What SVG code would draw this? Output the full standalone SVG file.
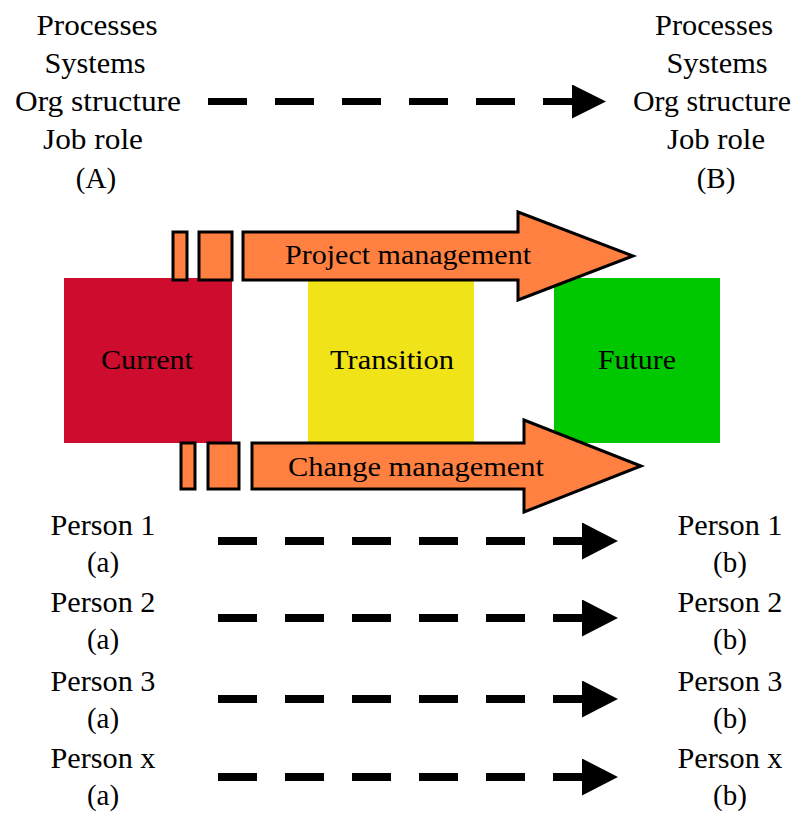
<svg xmlns="http://www.w3.org/2000/svg" width="803" height="814" viewBox="0 0 803 814">
<style>
.t{font-family:"Liberation Serif","Times New Roman",serif;font-size:29px;fill:#000;text-anchor:middle}
.b{font-family:"Liberation Serif","Times New Roman",serif;font-size:27px;fill:#000;text-anchor:middle}
.blk{fill:#FF8040;stroke:#000;stroke-width:3}
.dash{fill:none;stroke:#000}
</style>
<defs>
<marker id="headTop" markerUnits="userSpaceOnUse" markerWidth="34" markerHeight="34" viewBox="0 0 33 33" refX="0" refY="16.5" orient="auto">
<path d="M0,0 L33,16.5 L0,33 Z" fill="#000"/>
</marker>
<marker id="headP" markerUnits="userSpaceOnUse" markerWidth="36" markerHeight="37" viewBox="0 0 35 36" refX="0" refY="18" orient="auto">
<path d="M0,0 L35,18 L0,36 Z" fill="#000"/>
</marker>
</defs>
<rect width="803" height="814" fill="#fff"/>

<g id="stateA">
<text class="t" x="97" y="35" textLength="121" lengthAdjust="spacingAndGlyphs">Processes</text>
<text class="t" x="95" y="73" textLength="101" lengthAdjust="spacingAndGlyphs">Systems</text>
<text class="t" x="98" y="111" textLength="166" lengthAdjust="spacingAndGlyphs">Org structure</text>
<text class="t" x="93" y="149" textLength="100" lengthAdjust="spacingAndGlyphs">Job role</text>
<text class="t" x="96" y="188">(A)</text>
</g>
<g id="stateB">
<text class="t" x="714" y="35" textLength="118" lengthAdjust="spacingAndGlyphs">Processes</text>
<text class="t" x="717" y="73" textLength="101" lengthAdjust="spacingAndGlyphs">Systems</text>
<text class="t" x="712" y="111" textLength="158" lengthAdjust="spacingAndGlyphs">Org structure</text>
<text class="t" x="716" y="149" textLength="98" lengthAdjust="spacingAndGlyphs">Job role</text>
<text class="t" x="716" y="188">(B)</text>
</g>

<g id="current">
<rect x="64" y="278" width="168" height="165" fill="#CE0C2E"/>
<text class="b" x="147" y="369" textLength="92" lengthAdjust="spacingAndGlyphs">Current</text>
</g>
<g id="transition">
<rect x="308" y="280" width="166" height="163" fill="#F0E418"/>
<text class="b" x="392" y="369" textLength="124" lengthAdjust="spacingAndGlyphs">Transition</text>
</g>
<g id="future">
<rect x="554" y="278" width="166" height="165" fill="#00C800"/>
<text class="b" x="637" y="369" textLength="78" lengthAdjust="spacingAndGlyphs">Future</text>
</g>

<g id="projectManagement">
<rect class="blk" x="173" y="232" width="14" height="48"/>
<rect class="blk" x="199" y="232" width="33" height="48"/>
<polygon class="blk" points="243,232 518,232 518,212 633,256 518,300 518,280 243,280"/>
<text class="b" x="408" y="264" textLength="246" lengthAdjust="spacingAndGlyphs">Project management</text>
</g>
<g id="changeManagement">
<rect class="blk" x="181" y="443" width="14" height="46"/>
<rect class="blk" x="208" y="443" width="31" height="46"/>
<polygon class="blk" points="252,443 524,443 524,420 641,466 524,512 524,489 252,489"/>
<text class="b" x="416" y="476" textLength="256" lengthAdjust="spacingAndGlyphs">Change management</text>
</g>

<g id="p1a"><text class="t" x="103" y="535" textLength="105" lengthAdjust="spacingAndGlyphs">Person 1</text><text class="t" x="103" y="572">(a)</text></g>
<g id="p2a"><text class="t" x="103" y="612" textLength="105" lengthAdjust="spacingAndGlyphs">Person 2</text><text class="t" x="103" y="649">(a)</text></g>
<g id="p3a"><text class="t" x="103" y="691" textLength="105" lengthAdjust="spacingAndGlyphs">Person 3</text><text class="t" x="103" y="728">(a)</text></g>
<g id="pxa"><text class="t" x="103" y="768" textLength="105" lengthAdjust="spacingAndGlyphs">Person x</text><text class="t" x="103" y="805">(a)</text></g>
<g id="p1b"><text class="t" x="730" y="535" textLength="105" lengthAdjust="spacingAndGlyphs">Person 1</text><text class="t" x="730" y="572">(b)</text></g>
<g id="p2b"><text class="t" x="730" y="612" textLength="105" lengthAdjust="spacingAndGlyphs">Person 2</text><text class="t" x="730" y="649">(b)</text></g>
<g id="p3b"><text class="t" x="730" y="691" textLength="105" lengthAdjust="spacingAndGlyphs">Person 3</text><text class="t" x="730" y="728">(b)</text></g>
<g id="pxb"><text class="t" x="730" y="768" textLength="105" lengthAdjust="spacingAndGlyphs">Person x</text><text class="t" x="730" y="805">(b)</text></g>

<g id="connectors">
<path class="dash" d="M208,101.5 H572" stroke-width="7" stroke-dasharray="39 28" marker-end="url(#headTop)"/>
<path class="dash" d="M218,541 H582" stroke-width="8" stroke-dasharray="39 28" marker-end="url(#headP)"/>
<path class="dash" d="M218,618 H582" stroke-width="8" stroke-dasharray="39 28" marker-end="url(#headP)"/>
<path class="dash" d="M218,699 H582" stroke-width="8" stroke-dasharray="39 28" marker-end="url(#headP)"/>
<path class="dash" d="M218,777 H582" stroke-width="8" stroke-dasharray="39 28" marker-end="url(#headP)"/>
</g>
</svg>
